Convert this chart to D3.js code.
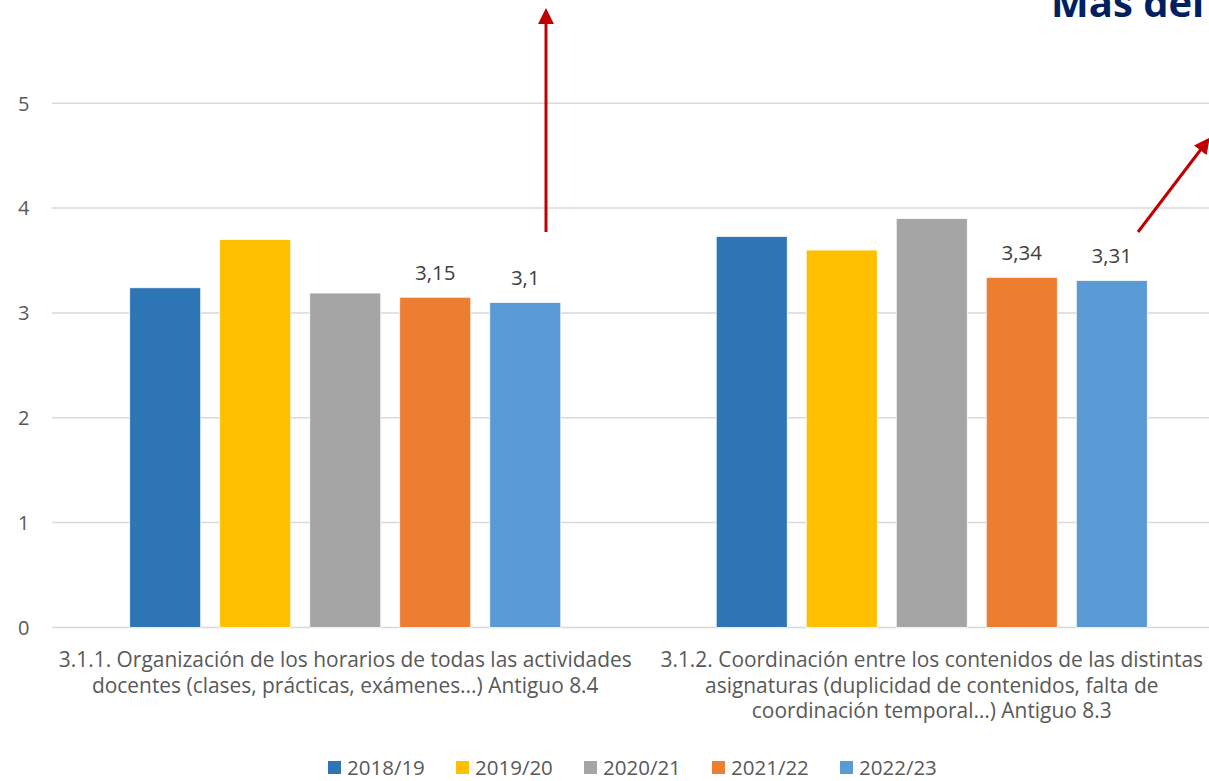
<!DOCTYPE html>
<html><head><meta charset="utf-8">
<script src="https://cdn.jsdelivr.net/npm/d3@7"></script>
<style>
html,body{margin:0;padding:0;background:#fff;overflow:hidden;}
svg{display:block;font-family:"Open Sans",sans-serif;}
</style></head>
<body>
<svg id="chart" width="1209" height="781"></svg>
<script>
const categories = [
  ["3.1.1. Organización de los horarios de todas las actividades", "docentes (clases, prácticas, exámenes...) Antiguo 8.4"],
  ["3.1.2. Coordinación entre los contenidos de las distintas", "asignaturas (duplicidad de contenidos, falta de", "coordinación temporal…) Antiguo 8.3"]
];
const seriesNames = ["2018/19", "2019/20", "2020/21", "2021/22", "2022/23"];
const seriesColors = ["#2E75B6", "#FFC000", "#A5A5A5", "#ED7D31", "#5B9BD5"];
const values2018 = [3.24, 3.73];
const values2019 = [3.70, 3.60];
const values2020 = [3.19, 3.90];
const values2021 = [3.15, 3.34];
const values2022 = [3.10, 3.31];
const labelledSeries = ["2021/22", "2022/23"];
const yTicks = [0, 1, 2, 3, 4, 5];
const titleText = "Más del";

const seriesValues = [values2018, values2019, values2020, values2021, values2022];
const svg = d3.select("#chart");

const y = d3.scaleLinear().domain([0, 5]).range([627.4, 103.3]);
const x0 = d3.scaleBand().domain([0, 1]).range([52, 1225]).paddingInner(0.265).paddingOuter(0.1325);
const x1 = d3.scaleBand().domain(seriesNames).range([0, x0.bandwidth()]).paddingInner(0.211).paddingOuter(0);

// gridlines
svg.append("g").selectAll("line").data(yTicks).join("line")
  .attr("x1", 52).attr("x2", 1225)
  .attr("y1", d => y(d)).attr("y2", d => y(d))
  .attr("stroke", "#D9D9D9").attr("stroke-width", 1.5);

// y tick labels
svg.append("g").selectAll("text").data(yTicks).join("text")
  .attr("x", 29.5).attr("y", d => y(d)).attr("dy", "0.36em")
  .attr("text-anchor", "end").attr("fill", "#595959")
  .attr("font-size", 20).text(d => d);

// bars
const groups = svg.append("g").selectAll("g").data([0, 1]).join("g")
  .attr("transform", c => `translate(${x0(c)},0)`);
groups.selectAll("rect").data(c => seriesNames.map((s, i) => ({s, i, v: seriesValues[i][c]}))).join("rect")
  .attr("x", d => x1(d.s)).attr("width", x1.bandwidth())
  .attr("y", d => y(d.v)).attr("height", d => y(0) - y(d.v))
  .attr("fill", d => seriesColors[d.i])
  .attr("stroke", "#fff").attr("stroke-width", 0.75);

// data labels
groups.selectAll("text.lbl").data(c => seriesNames.map((s, i) => ({s, i, v: seriesValues[i][c]})).filter(d => labelledSeries.includes(d.s)))
  .join("text").attr("class", "lbl")
  .attr("x", d => x1(d.s) + x1.bandwidth() / 2)
  .attr("y", d => y(d.v) - 17)
  .attr("text-anchor", "middle").attr("fill", "#404040").attr("font-size", 20.5)
  .text(d => String(d.v).replace(".", ","));

// category labels
const catTexts = categories.map((lines, c) => {
  const cx = x0(c) + x0.bandwidth() / 2;
  const t = svg.append("text").attr("text-anchor", "middle").attr("fill", "#595959").attr("font-size", 20);
  lines.forEach((ln, k) => {
    t.append("tspan").attr("x", cx).attr("y", 667 + k * 25.5).text(ln);
  });
  return t;
});
const first = catTexts[0].select("tspan").node().getComputedTextLength();
const fs = Math.min(21, 20 * 573 / first);
catTexts.forEach(t => t.attr("font-size", fs));

// legend
const legend = svg.append("g").selectAll("g").data(seriesNames).join("g")
  .attr("transform", (d, i) => `translate(${328 + i * 128},0)`);
legend.append("rect").attr("x", 0).attr("y", 761).attr("width", 13).attr("height", 13)
  .attr("fill", (d, i) => seriesColors[i]);
legend.append("text").attr("x", 19).attr("y", 775).attr("fill", "#595959").attr("font-size", 20.5).text(d => d);

// title (cut off at the top edge, as in the reference)
svg.append("text").attr("x", 1051).attr("y", 17).attr("fill", "#002060")
  .attr("font-size", 40).attr("font-weight", "bold")
  .text(titleText);

// arrows
const defs = svg.append("defs");
defs.append("marker").attr("id", "ah").attr("viewBox", "0 0 10 10").attr("refX", 5).attr("refY", 5)
  .attr("markerWidth", 5.3).attr("markerHeight", 5.3).attr("orient", "auto")
  .append("path").attr("d", "M0,0 L10,5 L0,10 z").attr("fill", "#C00000");
const arrows = [[546, 232, 546, 16], [1138, 232, 1205, 144]];
svg.append("g").selectAll("line").data(arrows).join("line")
  .attr("x1", d => d[0]).attr("y1", d => d[1]).attr("x2", d => d[2]).attr("y2", d => d[3])
  .attr("stroke", "#C00000").attr("stroke-width", 3).attr("marker-end", "url(#ah)");
</script>
</body></html>
